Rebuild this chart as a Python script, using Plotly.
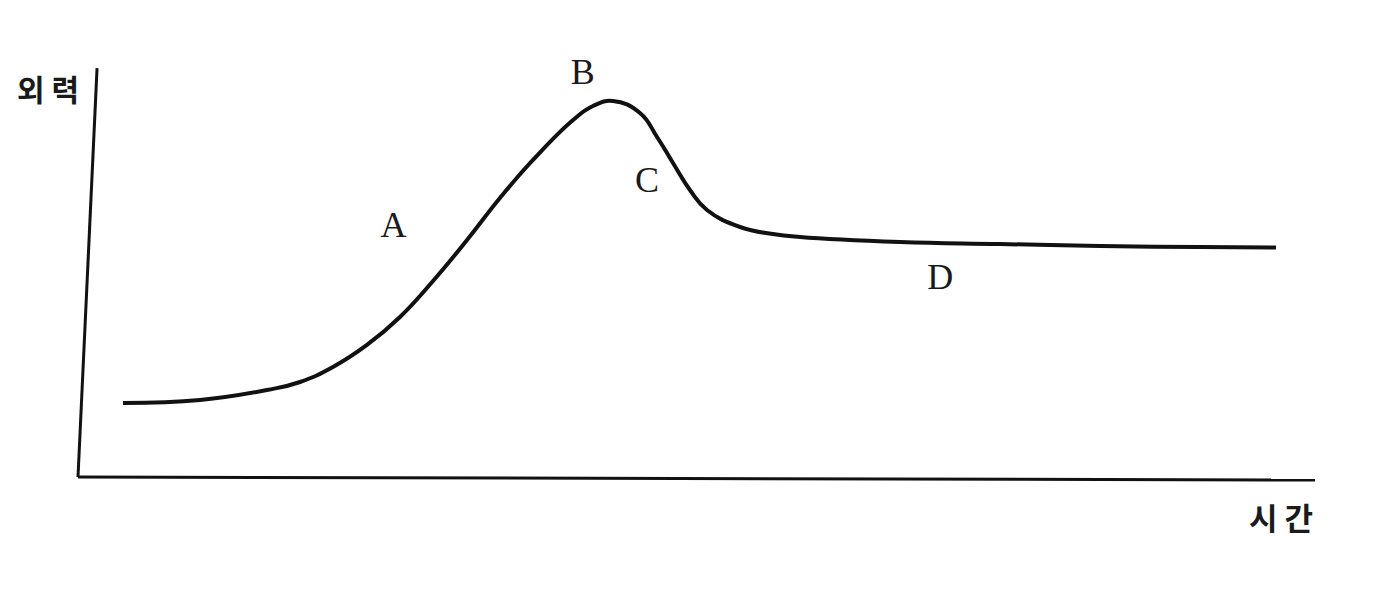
import plotly.graph_objects as go

# Curve data (time vs external force, arbitrary units)
time = [3.64, 9.86, 15.28, 17.95, 20.61, 23.36, 26.03, 28.70, 31.45, 34.11,
        36.78, 40.02, 41.63, 43.25, 45.43, 46.81, 48.10, 49.47, 50.85, 53.52,
        56.18, 58.37, 66.45, 74.54, 82.62, 90.70, 96.85]
force = [18.41, 19.15, 21.64, 23.63, 27.36, 32.84, 39.80, 48.76, 58.96, 69.40,
         78.86, 88.81, 92.29, 93.53, 90.55, 84.58, 78.11, 71.39, 66.42, 62.19,
         60.45, 59.70, 58.46, 57.96, 57.46, 57.21, 57.09]

# Point labels
label_text = ["A", "B", "C", "D"]
label_time = [25.5, 40.8, 46.0, 69.7]
label_force = [61.9, 100.0, 73.1, 49.0]

y_title = "외 력"
x_title = "시 간"

fig = go.Figure()
fig.add_trace(go.Scatter(
    x=time, y=force, mode="lines",
    line=dict(color="#111111", width=4, shape="spline", smoothing=1.3),
    hoverinfo="skip", showlegend=False, cliponaxis=False,
))
fig.add_trace(go.Scatter(
    x=label_time, y=label_force, mode="text", text=label_text,
    textfont=dict(family="Liberation Serif", size=36, color="#1a1a1a"),
    textposition="middle center", cliponaxis=False,
    hoverinfo="skip", showlegend=False,
))

# Hand-drawn style axes (paper coordinates so they are not clipped)
fig.add_shape(type="line", x0=0, y0=0, x1=0.0154, y1=1.017, xref="paper", yref="paper",
              line=dict(color="#111111", width=3))
fig.add_shape(type="line", x0=0, y0=0, x1=1.0, y1=-0.0075, xref="paper", yref="paper",
              line=dict(color="#111111", width=3))
# Right border of the scan
fig.add_shape(type="line", x0=1.0565, x1=1.0565, y0=-0.3, y1=1.3,
              xref="paper", yref="paper", line=dict(color="#8a8a8a", width=2))

fig.add_annotation(x=-0.0243, y=0.968, xref="paper", yref="paper", text=y_title,
                   showarrow=False, xanchor="center", yanchor="middle",
                   font=dict(family="Noto Sans CJK KR", size=30, color="#1a1a1a", weight=700))
fig.add_annotation(x=0.9725, y=-0.0995, xref="paper", yref="paper", text=x_title,
                   showarrow=False, xanchor="center", yanchor="middle",
                   font=dict(family="Noto Sans CJK KR", size=31, color="#1a1a1a", weight=700))

fig.update_xaxes(range=[0, 100], visible=False, fixedrange=True)
fig.update_yaxes(range=[0, 100], visible=False, fixedrange=True)
# page body has an 8px default margin; figure is shifted accordingly
fig.update_layout(
    width=1379, height=582,
    margin=dict(l=70, r=72, t=67, b=113),
    paper_bgcolor="white", plot_bgcolor="white",
    showlegend=False,
)
fig.write_html("out.html")
